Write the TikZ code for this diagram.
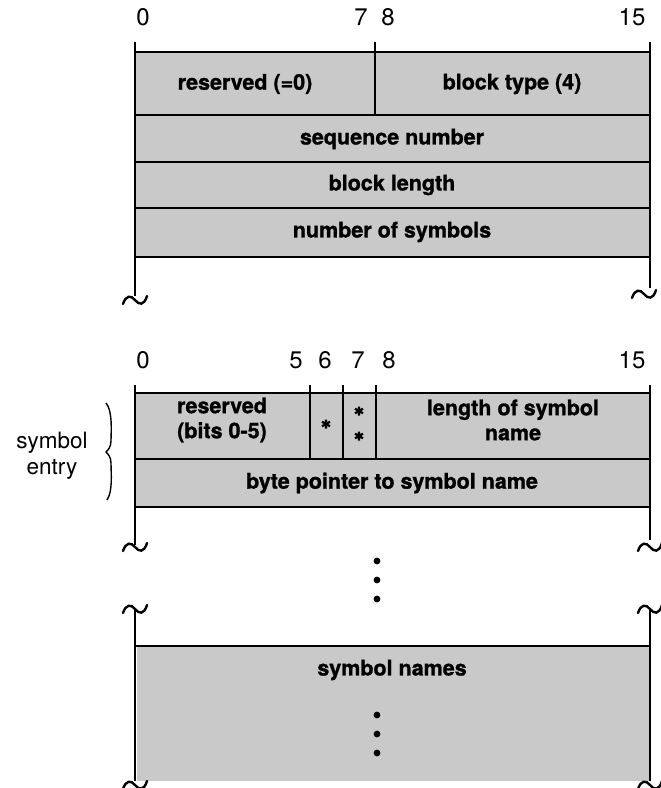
\documentclass[tikz,border=0pt]{standalone}
\usepackage{fontspec}
\setmainfont{TeX Gyre Heros}[BoldFeatures={FakeBold=1.2}]
\begin{document}
\begin{tikzpicture}[x=1pt,y=-1pt,line width=2.6pt,
  field/.style={font=\bfseries\fontsize{21.5}{25}\selectfont,align=center,inner sep=0pt},
  bitnum/.style={font=\fontsize{24}{26}\selectfont,inner sep=0pt},
  sidelabel/.style={font=\fontsize{22.5}{26}\selectfont,align=center,inner sep=0pt},
  shaded/.style={fill=black!21},
  dotmark/.style={fill=black},
  tilde/.pic={\draw[line width=2.4pt,line cap=round]
     (-12,6) .. controls (-9,-3) and (-4,-3) .. (0,2)
     .. controls (4,7) and (9,8) .. (12,-2);},
  asterisk/.pic={\draw[line width=2.2pt]
     (0,-4.5) -- (0,4.5) (-4,-2.3) -- (4,2.3) (-4,2.3) -- (4,-2.3);}]
\useasboundingbox (0,0) rectangle (661,788);

% ---------- block header ----------
\fill[shaded] (135,52) rectangle (650,257);
\node[bitnum] (h0)  at (143,17) {0};
\node[bitnum] (h7)  at (361,17) {7};
\node[bitnum] (h8)  at (388,17) {8};
\node[bitnum] (h15) at (632,17) {15};
\draw (135,42) -- (135,296);
\draw (650,42) -- (650,288);
\draw (375,42) -- (375,115);
\foreach \y in {52,115,162,208,257} \draw (135,\y) -- (650,\y);
\node[field] (resv)  at (245,84)  {reserved (=0)};
\node[field] (btype) at (512,84)  {block type (4)};
\node[field] (seq)   at (392,139) {sequence number};
\node[field] (blen)  at (392,185) {block length};
\node[field] (nsym)  at (392,232) {number of symbols};
\pic at (135,298) {tilde};
\pic at (644,292) {tilde};

% ---------- symbol entry ----------
\fill[shaded] (135,393) rectangle (650,507);
\node[bitnum] (s0)  at (143,360) {0};
\node[bitnum] (s5)  at (296,360) {5};
\node[bitnum] (s6)  at (325,360) {6};
\node[bitnum] (s7)  at (358,360) {7};
\node[bitnum] (s8)  at (389,360) {8};
\node[bitnum] (s15) at (632,360) {15};
\draw (135,385) -- (135,545);
\draw (650,385) -- (650,540);
\foreach \x in {310,343,376} \draw (\x,385) -- (\x,459);
\foreach \y in {393,459,507} \draw (135,\y) -- (650,\y);
\node[field] (rbits) at (222,420) {reserved\\(bits 0-5)};
\pic at (326,424) {asterisk};
\pic at (359,411) {asterisk};
\pic at (359,436) {asterisk};
\node[field] (slen) at (513,420) {length of symbol\\name};
\node[field] (bptr) at (392,483) {byte pointer to symbol name};
\node[sidelabel] (entry) at (52,456) {symbol\\entry};
\draw[line width=1.4pt]
  (106,403) .. controls (113,411) and (111,433) .. (111,441)
  .. controls (111,447) and (108,450) .. (106,452)
  .. controls (108,454) and (111,457) .. (111,463)
  .. controls (111,473) and (113,491) .. (107,500);
\pic at (135,545) {tilde};
\pic at (650,545) {tilde};

% ---------- ellipsis ----------
\fill[dotmark] (377,561) circle (3.4);
\fill[dotmark] (377,580) circle (3.4);
\fill[dotmark] (377,599) circle (3.4);

% ---------- symbol names ----------
\pic at (135,607) {tilde};
\pic at (650,607) {tilde};
\fill[shaded] (137,646) rectangle (649,781);
\draw (135,610) -- (135,781);
\draw (650,610) -- (650,781);
\draw (135,646) -- (650,646);
\node[field] (names) at (392,670) {symbol names};
\fill[dotmark] (377,715) circle (3.4);
\fill[dotmark] (377,734) circle (3.4);
\fill[dotmark] (377,753) circle (3.4);
\pic at (135,783) {tilde};
\pic at (650,783) {tilde};
\end{tikzpicture}
\end{document}
